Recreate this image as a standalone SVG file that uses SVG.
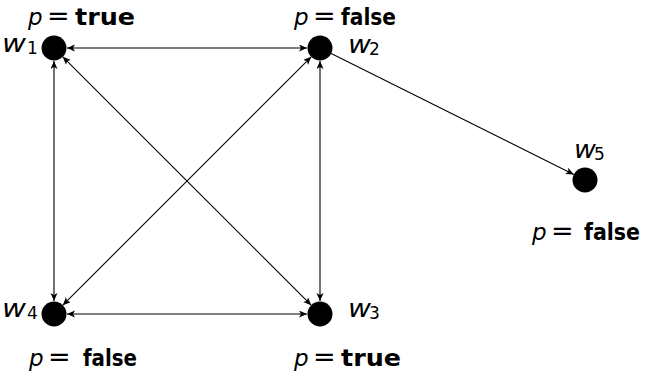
<svg xmlns="http://www.w3.org/2000/svg" width="647" height="373" viewBox="0 0 647 373">
<style>
.node{fill:#000}
.edge{stroke:#000;stroke-width:1.1;fill:none}
.t{font-family:"DejaVu Sans","Liberation Sans",sans-serif;font-size:23px;fill:#000}
.it{font-style:italic}
.b{font-weight:bold}
.eq{font-size:27px}
.w{font-size:25px;font-style:italic}
.sub{font-size:17px}
</style>
<defs>
<marker id="ah" markerUnits="userSpaceOnUse" markerWidth="10" markerHeight="8" refX="8" refY="3.5" orient="auto-start-reverse" viewBox="0 0 10 8">
<path d="M0,0 L8,3.5 L0,7 L2,3.5 z" fill="#000"/>
</marker>
</defs>
<rect width="647" height="373" fill="#fff"/>
<g id="connectors">
<line class="edge" x1="67" y1="48" x2="307" y2="48" marker-start="url(#ah)" marker-end="url(#ah)"/>
<line class="edge" x1="54" y1="61" x2="54" y2="301" marker-start="url(#ah)" marker-end="url(#ah)"/>
<line class="edge" x1="320" y1="61" x2="320" y2="301" marker-start="url(#ah)" marker-end="url(#ah)"/>
<line class="edge" x1="67" y1="314" x2="307" y2="314" marker-start="url(#ah)" marker-end="url(#ah)"/>
<line class="edge" x1="62.8" y1="56.8" x2="311.2" y2="305.2" marker-start="url(#ah)" marker-end="url(#ah)"/>
<line class="edge" x1="311.2" y1="56.8" x2="62.8" y2="305.2" marker-start="url(#ah)" marker-end="url(#ah)"/>
<line class="edge" x1="331.2" y1="53.6" x2="573.8" y2="174.4" marker-end="url(#ah)"/>
</g>
<g id="w1">
<circle class="node" cx="54" cy="48" r="12.5"/>
<text class="t" y="52"><tspan class="w" x="2" textLength="24" lengthAdjust="spacingAndGlyphs">w</tspan><tspan class="sub" x="27" dy="2">1</tspan></text>
<text class="t" y="25"><tspan class="it" x="28">p</tspan><tspan class="eq" x="47">=</tspan><tspan class="b" x="75" textLength="60" lengthAdjust="spacingAndGlyphs">true</tspan></text>
</g>
<g id="w2">
<circle class="node" cx="320" cy="48" r="12.5"/>
<text class="t" y="53"><tspan class="w" x="348" textLength="23" lengthAdjust="spacingAndGlyphs">w</tspan><tspan class="sub" x="369" dy="2">2</tspan></text>
<text class="t" y="25"><tspan class="it" x="294">p</tspan><tspan class="eq" x="313">=</tspan><tspan class="b" x="341" textLength="55" lengthAdjust="spacingAndGlyphs">false</tspan></text>
</g>
<g id="w3">
<circle class="node" cx="320" cy="314" r="12.5"/>
<text class="t" y="317"><tspan class="w" x="348" textLength="23" lengthAdjust="spacingAndGlyphs">w</tspan><tspan class="sub" x="369" dy="2">3</tspan></text>
<text class="t" y="366"><tspan class="it" x="294">p</tspan><tspan class="eq" x="313">=</tspan><tspan class="b" x="341" textLength="60" lengthAdjust="spacingAndGlyphs">true</tspan></text>
</g>
<g id="w4">
<circle class="node" cx="54" cy="314" r="12.5"/>
<text class="t" y="317"><tspan class="w" x="2" textLength="24" lengthAdjust="spacingAndGlyphs">w</tspan><tspan class="sub" x="27" dy="2">4</tspan></text>
<text class="t" y="366"><tspan class="it" x="29">p</tspan><tspan class="eq" x="48">=</tspan><tspan class="b" x="83" textLength="54" lengthAdjust="spacingAndGlyphs">false</tspan></text>
</g>
<g id="w5">
<circle class="node" cx="585" cy="180" r="12.5"/>
<text class="t" y="158"><tspan class="w" x="574" textLength="22" lengthAdjust="spacingAndGlyphs">w</tspan><tspan class="sub" x="594" dy="2">5</tspan></text>
<text class="t" y="240"><tspan class="it" x="532">p</tspan><tspan class="eq" x="551">=</tspan><tspan class="b" x="584" textLength="56" lengthAdjust="spacingAndGlyphs">false</tspan></text>
</g>
</svg>
